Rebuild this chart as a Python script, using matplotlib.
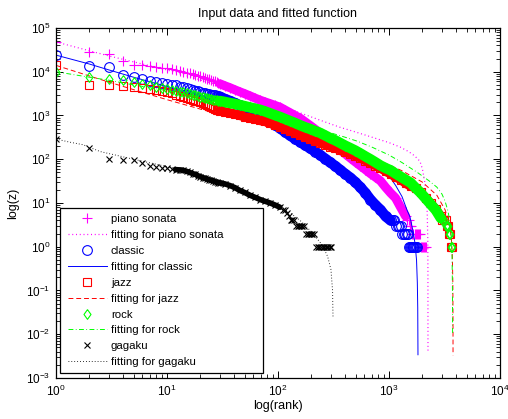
import matplotlib
matplotlib.use("Agg")
import matplotlib.pyplot as plt
from matplotlib.patches import Rectangle

plt.rcParams['font.family'] = ['Liberation Sans', 'DejaVu Sans']
plt.rcParams['mathtext.fontset'] = 'custom'
plt.rcParams['mathtext.rm'] = 'Liberation Sans'
plt.rcParams['mathtext.it'] = 'Liberation Sans:italic'
plt.rcParams['mathtext.bf'] = 'Liberation Sans:bold'

# ---------------- data ----------------
head_rank = list(range(1, 31))
mid_rank = [33, 37, 41, 45, 50, 56, 62, 69, 76, 85, 94, 104, 116, 128, 142, 158, 175, 195, 216,
            240, 266, 295, 328, 364, 404, 448, 497, 552, 613, 680, 755, 838, 930, 1032]

piano_rank = head_rank + mid_rank + [1146, 1272, 1412, 1460, 1500, 1530, 1560, 1590, 1620, 1660,
                                     1700, 1740, 1780, 1820, 1860, 1900, 1950, 1990, 2030, 2070,
                                     2110, 2150]
piano_z = [48000, 28000, 25000, 18000, 14500, 14000, 13500, 13000, 12500, 12000,
           11500, 11000, 10500, 10000, 9500, 9200, 8800, 8500, 8100, 7800,
           7500, 7200, 7000, 6700, 6400, 6200, 6000, 5700, 5500, 5300,
           4800, 4300, 3850, 3500, 3150, 2800, 2500, 2240, 2050, 1860, 1700, 1550, 1330, 1160,
           1000, 870, 720, 590, 485, 400, 316, 254, 204, 162, 132, 107, 87, 71, 58, 47, 39, 32,
           23, 17,
           13, 8, 5, 4, 4, 3, 3, 3, 2, 2, 2, 2, 2, 2, 2, 2, 1, 1, 1, 1, 1, 1]
piano_fit_rank = [1, 3, 10, 30, 100, 128, 240, 360, 500, 700, 1000, 1260, 1500, 1700, 1900,
                  2000, 2100, 2170, 2210, 2235, 2242, 2245]
piano_fit_z = [48000, 23000, 11000, 4800, 1800, 1400, 780, 540, 420, 320, 240, 190, 150, 120,
               90, 60, 30, 14, 6, 1.5, 0.3, 0.004]

classic_rank = head_rank + mid_rank + [1080, 1120, 1160, 1200, 1240, 1280, 1320, 1360, 1400,
                                       1440, 1480, 1510, 1540, 1570, 1600, 1630, 1660, 1690,
                                       1720, 1750, 1790]
classic_z = [24000, 13500, 13000, 8500, 7600, 6800, 6100, 5900, 5500, 5300,
             5100, 4900, 4600, 4400, 4200, 4000, 3850, 3700, 3550, 3400,
             3300, 3200, 3150, 3050, 3000, 2950, 2900, 2800, 2750, 2700,
             2400, 2150, 1920, 1720, 1530, 1340, 1180, 1040, 880, 740, 610, 510, 420, 350, 295,
             250, 210, 178, 150, 125, 103, 85, 70, 57, 46, 38, 30, 23, 17, 12, 9, 7, 5, 4,
             4, 4, 3, 3, 3, 3, 2, 2, 2, 2, 2, 1, 1, 1, 1, 1, 1, 1, 1, 1, 1]
classic_fit_rank = [1, 2, 3, 5, 10, 20, 30, 50, 100, 200, 400, 700, 960, 1150, 1310, 1450,
                    1545, 1650, 1715, 1770, 1800, 1815, 1824]
classic_fit_z = [24000, 15000, 11000, 7500, 4600, 2900, 2200, 1500, 850, 440, 200, 95, 49, 25,
                 14, 7, 4.8, 2.2, 1.2, 0.5, 0.15, 0.04, 0.0034]

jazz_rank = head_rank + mid_rank + [1146, 1272, 1412, 1567, 1740, 1931, 2143, 2379, 2641, 2931,
                                    3030, 3130, 3230, 3330, 3420, 3500, 3580, 3650, 3720]
jazz_z = [14000, 5000, 5000, 4700, 4400, 4200, 4000, 3800, 3600, 3400,
          3200, 3000, 2850, 2700, 2550, 2400, 2300, 2200, 2100, 2000,
          1900, 1800, 1700, 1620, 1550, 1480, 1420, 1360, 1320, 1300,
          1230, 1150, 1070, 1000, 930, 890, 840, 790, 730, 660, 600, 550, 490, 440, 400, 355,
          320, 290, 260, 235, 214, 195, 178, 162, 146, 132, 119, 107, 93, 81, 71, 62, 53, 46,
          39, 34, 28, 24, 22, 17.5, 13, 9.8, 7.2, 5,
          4, 4, 4, 3, 3, 2, 2, 1, 1]
jazz_fit_rank = [1, 2, 3, 5, 10, 20, 30, 50, 100, 200, 400, 800, 1300, 2000, 2700, 3200, 3500,
                 3650, 3720, 3760, 3772, 3775]
jazz_fit_z = [14000, 8000, 5800, 3900, 2300, 1400, 1050, 760, 480, 300, 180, 95, 55, 30, 15, 7,
              3.5, 1.5, 0.6, 0.15, 0.02, 0.0033]

rock_rank = head_rank + mid_rank + [1146, 1272, 1412, 1567, 1740, 1931, 2143, 2379, 2641, 2931,
                                    3030, 3130, 3230, 3330, 3420, 3500, 3580, 3650, 3720]
rock_z = [10000, 7600, 6700, 6400, 5800, 5300, 4900, 4600, 4300, 4100,
          3900, 3700, 3500, 3400, 3250, 3100, 3000, 2900, 2800, 2700,
          2630, 2560, 2500, 2440, 2380, 2320, 2270, 2220, 2180, 2150,
          2050, 1930, 1840, 1740, 1640, 1530, 1440, 1350, 1245, 1120, 1020, 930, 830, 750, 675,
          600, 540, 490, 440, 400, 350, 305, 270, 235, 204, 180, 158, 136, 116, 100, 85, 72, 63,
          56, 47, 40, 34, 29, 22, 17, 12.6, 9.3, 6.9, 4.5,
          4, 4, 3, 3, 3, 2, 2, 1, 1]
rock_fit_rank = [1, 2, 3, 5, 10, 20, 30, 50, 100, 200, 300, 400, 515, 700, 1000, 1300, 1800,
                 2300, 2700, 3000, 3200, 3400, 3550, 3650, 3700, 3730, 3740]
rock_fit_z = [10000, 7500, 6400, 5000, 3700, 2600, 2100, 1600, 1050, 560, 400, 320, 260, 190,
              125, 85, 50, 32, 23, 16, 11, 6.5, 3.5, 1.5, 0.6, 0.1, 0.01]

gagaku_rank = head_rank + [33, 37, 41, 45, 50, 56, 62, 69, 76, 85, 94, 104, 112, 116, 120, 125,
                           130, 135, 140, 145, 150, 155, 160, 165, 170, 180, 186, 192, 198, 204,
                           210, 220, 228, 236, 244, 252, 260, 268, 276, 284, 292, 300]
gagaku_z = [290, 180, 100, 98, 97, 81, 71, 66, 63, 62,
            60, 58, 57, 56, 53, 50, 47, 45, 42, 40,
            38, 37, 35, 34, 33, 32, 31, 30, 29, 29,
            27.5, 25, 22.4, 19.5, 17.4, 15, 13.5, 12, 11, 10, 9, 8, 7, 7, 6, 5,
            4, 4, 4, 3, 3, 3, 3, 3, 3, 2, 2, 2, 2, 2,
            2, 1, 1, 1, 1, 1, 1, 1, 1, 1, 1, 1]
gagaku_fit_rank = [1, 1.34, 1.75, 2.5, 5, 10, 20, 30, 56, 80, 104, 128, 158, 200, 250, 280,
                   300, 310, 313]
gagaku_fit_z = [290, 245, 215, 150, 100, 68, 45, 33, 16, 11, 8, 6, 4, 2.2, 1.1, 0.6, 0.3,
                0.1, 0.025]

labels = ['piano sonata', 'fitting for piano sonata', 'classic', 'fitting for classic',
          'jazz', 'fitting for jazz', 'rock', 'fitting for rock', 'gagaku', 'fitting for gagaku']

# ---------------- figure ----------------
W, H = 508, 419
fig = plt.figure(figsize=(W / 100, H / 100), dpi=100)
ax = fig.add_axes([56 / W, 1 - 378 / H, 444 / W, 350 / H])

diamond = [(0, 1), (0.72, 0), (0, -1), (-0.72, 0), (0, 1)]
lw = 0.7
mew = 0.8


def band(rank, z, lo, hi, color, width):
    """dense markers merge into a solid band: draw it as a thick stroke"""
    pts = [(r, v) for r, v in zip(rank, z) if lo <= r <= hi]
    ax.plot([p[0] for p in pts], [p[1] for p in pts], color=color, lw=width,
            solid_capstyle='round', solid_joinstyle='round')


h = []
band(piano_rank, piano_z, 30, 1412, '#ff00ff', 6.5)
h += ax.plot(piano_rank, piano_z, ls='none', marker='+', ms=7, mew=mew, color='#ff00ff')
h += ax.plot(piano_fit_rank, piano_fit_z, ls=(0, (0.8, 2.2)), lw=0.9, color='#ff00ff')
band(classic_rank, classic_z, 30, 1032, '#0000ff', 7.5)
h += ax.plot(classic_rank, classic_z, ls='none', marker='o', ms=7, mew=mew, mfc='none',
             mec='#0000ff')
h += ax.plot(classic_fit_rank, classic_fit_z, ls='-', lw=lw, color='#0000ff')
band(jazz_rank, jazz_z, 30, 2931, '#ff0000', 6.5)
h += ax.plot(jazz_rank, jazz_z, ls='none', marker='s', ms=6, mew=mew, mfc='none',
             mec='#ff0000')
h += ax.plot(jazz_fit_rank, jazz_fit_z, ls=(0, (5, 3)), lw=lw, color='#ff0000')
band(rock_rank, rock_z, 30, 2931, '#00ff00', 7.5)
h += ax.plot(rock_rank, rock_z, ls='none', marker=diamond, ms=7, mew=mew, mfc='none',
             mec='#00ff00')
h += ax.plot(rock_fit_rank, rock_fit_z, ls=(0, (5, 2.5, 0.8, 2.5)), lw=lw, color='#00ff00')
band(gagaku_rank, gagaku_z, 12, 104, 'black', 4.0)
h += ax.plot(gagaku_rank, gagaku_z, ls='none', marker='x', ms=4.5, mew=mew, color='black')
h += ax.plot(gagaku_fit_rank, gagaku_fit_z, ls=(0, (0.8, 2.2)), lw=0.7, color='black')

ax.set_xscale('log')
ax.set_yscale('log')
ax.set_xlim(1, 1e4)
ax.set_ylim(1e-3, 1e5)

ax.tick_params(which='both', direction='in', top=True, right=True, labelsize=8.5, pad=4)
ax.tick_params(which='major', length=5, width=0.7)
ax.tick_params(which='minor', length=3, width=0.6)
for s in ax.spines.values():
    s.set_linewidth(0.9)

fig.text(278 / W, 1 - 14 / H, 'Input data and fitted function', ha='center', va='center',
         fontsize=9)
fig.text(278 / W, 1 - 406 / H, 'log(rank)', ha='center', va='center', fontsize=9)
fig.text(13 / W, 1 - 203 / H, 'log(z)', ha='center', va='center', fontsize=9, rotation=90)

# legend box (MATLAB style, wider than its content)
ax.add_patch(Rectangle((4 / 444, 5 / 350), 203 / 444, 165 / 350, transform=ax.transAxes,
                       facecolor='white', edgecolor='black', lw=0.9, zorder=4.8))
leg = ax.legend(h, labels, loc='upper left', bbox_to_anchor=(12 / 444, (378 - 214) / 350),
                frameon=False, fontsize=8.2, numpoints=1, handlelength=3.42,
                handletextpad=0.35, labelspacing=0.52, borderpad=0, borderaxespad=0)
leg.set_zorder(5)

fig.savefig('out.png', dpi=100)
